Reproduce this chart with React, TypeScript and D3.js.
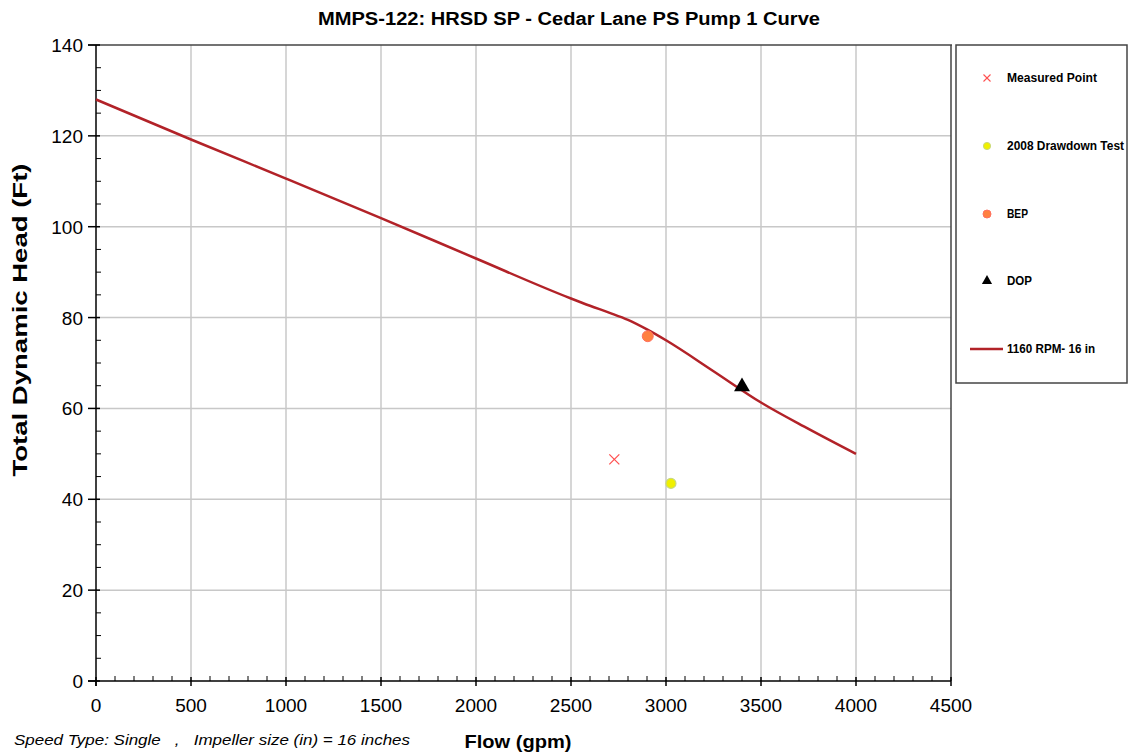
import React from "react";
import * as d3 from "d3";

const curveFlow = [0, 500, 1000, 1500, 2000, 2500, 2600, 2700, 2800, 2900, 3000, 3250, 3500, 3750, 4000];
const curveHead = [128, 119.2, 110.6, 101.9, 93, 84.2, 82.6, 81.1, 79.5, 77.4, 75, 68.2, 61.3, 55.5, 50];

const measured = [{ flow: 2728, head: 48.8 }];
const drawdown = [{ flow: 3026, head: 43.5 }];
const bep = [{ flow: 2904, head: 75.9 }];
const dop = [{ flow: 3400, head: 64.8 }];

const xTicks = [0, 500, 1000, 1500, 2000, 2500, 3000, 3500, 4000, 4500];
const yTicks = [0, 20, 40, 60, 80, 100, 120, 140];

const legendLabels = ["Measured Point", "2008 Drawdown Test", "BEP", "DOP", "1160 RPM- 16 in"];
const legendWidths = [90, 117, 21, 25, 88];

const W = 1129, H = 754;
const L = 96, R = 951, T = 45, B = 681;
const FONT = "'Liberation Sans', Arial, sans-serif";

export default function App() {
  const x = d3.scaleLinear().domain([0, 4500]).range([L, R]);
  const y = d3.scaleLinear().domain([0, 140]).range([B, T]);
  const line = d3
    .line<number>()
    .x((_, i) => x(curveFlow[i]))
    .y((d) => y(d))
    .curve(d3.curveMonotoneX);

  const xMinor = d3.range(0, 4501, 100).filter((v) => v % 500 !== 0);
  const yMinor = d3.range(0, 141, 5).filter((v) => v % 20 !== 0);

  const tri = d3.symbol().type(d3.symbolTriangle).size(110)();
  const triSmall = d3.symbol().type(d3.symbolTriangle).size(45)();

  const legendY = [78, 146, 214, 281, 349];
  const lmx = 987, ltx = 1007;

  return (
    <svg width={W} height={H} style={{ position: "absolute", left: 0, top: 0, fontFamily: FONT }}>
      <rect x={0} y={0} width={W} height={H} fill="#fff" />
      {/* grid */}
      {xTicks.slice(1, -1).map((v) => (
        <line key={"gx" + v} x1={x(v)} x2={x(v)} y1={T} y2={B} stroke="#c8c8c8" strokeWidth={1.5} />
      ))}
      {yTicks.slice(1, -1).map((v) => (
        <line key={"gy" + v} x1={L} x2={R} y1={y(v)} y2={y(v)} stroke="#c8c8c8" strokeWidth={1.5} />
      ))}
      {/* border top/right */}
      <line x1={L - 8} x2={R + 1} y1={T} y2={T} stroke="#444" strokeWidth={1.5} />
      <line x1={R} x2={R} y1={T} y2={B} stroke="#444" strokeWidth={1.5} />
      {/* axes */}
      <line x1={L} x2={L} y1={T} y2={B + 5} stroke="#000" strokeWidth={1.5} />
      <line x1={L - 8} x2={R} y1={B} y2={B} stroke="#000" strokeWidth={1.5} />
      {xTicks.map((v) => (
        <line key={"xt" + v} x1={x(v)} x2={x(v)} y1={B - 4} y2={B + 5} stroke="#000" strokeWidth={1.5} />
      ))}
      {xMinor.map((v) => (
        <line key={"xm" + v} x1={x(v)} x2={x(v)} y1={B - 5} y2={B} stroke="#000" strokeWidth={1} />
      ))}
      {yTicks.map((v) => (
        <line key={"yt" + v} x1={L - 8} x2={L + 4} y1={y(v)} y2={y(v)} stroke="#000" strokeWidth={1.5} />
      ))}
      {yMinor.map((v) => (
        <line key={"ym" + v} x1={L} x2={L + 5} y1={y(v)} y2={y(v)} stroke="#000" strokeWidth={1} />
      ))}
      {xTicks.map((v) => (
        <text key={"xl" + v} x={x(v)} y={B + 31} textAnchor="middle" fontSize={19} fill="#000">
          {v}
        </text>
      ))}
      {yTicks.map((v) => (
        <text key={"yl" + v} x={L - 13} y={y(v) + 7} textAnchor="end" fontSize={19} fill="#000">
          {v}
        </text>
      ))}
      {/* curve */}
      <path d={line(curveHead) || ""} fill="none" stroke="#b22228" strokeWidth={2.5} />
      {/* points */}
      {measured.map((d, i) => (
        <g key={"m" + i} transform={`translate(${x(d.flow)},${y(d.head)})`} stroke="#ff5050" strokeWidth={1.2}>
          <line x1={-5} y1={-5} x2={5} y2={5} />
          <line x1={-5} y1={5} x2={5} y2={-5} />
        </g>
      ))}
      {drawdown.map((d, i) => (
        <circle key={"d" + i} cx={x(d.flow)} cy={y(d.head)} r={5} fill="#f0f000" stroke="#c8d880" strokeWidth={1.2} />
      ))}
      {bep.map((d, i) => (
        <circle key={"b" + i} cx={x(d.flow)} cy={y(d.head)} r={5.5} fill="#ff8040" stroke="#ff7060" strokeWidth={1} />
      ))}
      {dop.map((d, i) => (
        <path key={"t" + i} d={tri || ""} transform={`translate(${x(d.flow)},${y(d.head)})`} fill="#000" />
      ))}
      {/* titles */}
      <text x={569} y={25} textAnchor="middle" fontSize={18} fontWeight="bold" fill="#000" textLength={502} lengthAdjust="spacingAndGlyphs">
        MMPS-122: HRSD SP - Cedar Lane PS Pump 1 Curve
      </text>
      <text x={518} y={748} textAnchor="middle" fontSize={19} fontWeight="bold" fill="#000" textLength={107} lengthAdjust="spacingAndGlyphs">
        Flow (gpm)
      </text>
      <text
        transform={`translate(27,320) rotate(-90)`}
        textAnchor="middle"
        fontSize={20}
        fontWeight="bold"
        fill="#000"
        textLength={313}
        lengthAdjust="spacingAndGlyphs"
      >
        Total Dynamic Head (Ft)
      </text>
      <text x={14} y={745} fontSize={15} fontStyle="italic" fill="#000" style={{ whiteSpace: "pre" }} textLength={396} lengthAdjust="spacingAndGlyphs">
        {"Speed Type: Single   ,   Impeller size (in) = 16 inches"}
      </text>
      {/* legend */}
      <rect x={956} y={45} width={171} height={338} fill="#fff" stroke="#444" strokeWidth={1.5} />
      <g stroke="#ff5050" strokeWidth={1.1} transform={`translate(${lmx},${legendY[0]})`}>
        <line x1={-3.5} y1={-3.5} x2={3.5} y2={3.5} />
        <line x1={-3.5} y1={3.5} x2={3.5} y2={-3.5} />
      </g>
      <circle cx={lmx} cy={legendY[1]} r={3.6} fill="#f0f000" stroke="#c8d880" strokeWidth={1} />
      <circle cx={lmx} cy={legendY[2]} r={4} fill="#ff8040" stroke="#ff7060" strokeWidth={1} />
      <path d={triSmall || ""} transform={`translate(${lmx},${legendY[3]})`} fill="#000" />
      <line x1={970} x2={1003} y1={legendY[4]} y2={legendY[4]} stroke="#b22228" strokeWidth={2.5} />
      {legendLabels.map((t, i) => (
        <text key={t} x={ltx} y={legendY[i] + 4} fontSize={12} fontWeight="bold" fill="#000" textLength={legendWidths[i]} lengthAdjust="spacingAndGlyphs">
          {t}
        </text>
      ))}
    </svg>
  );
}
